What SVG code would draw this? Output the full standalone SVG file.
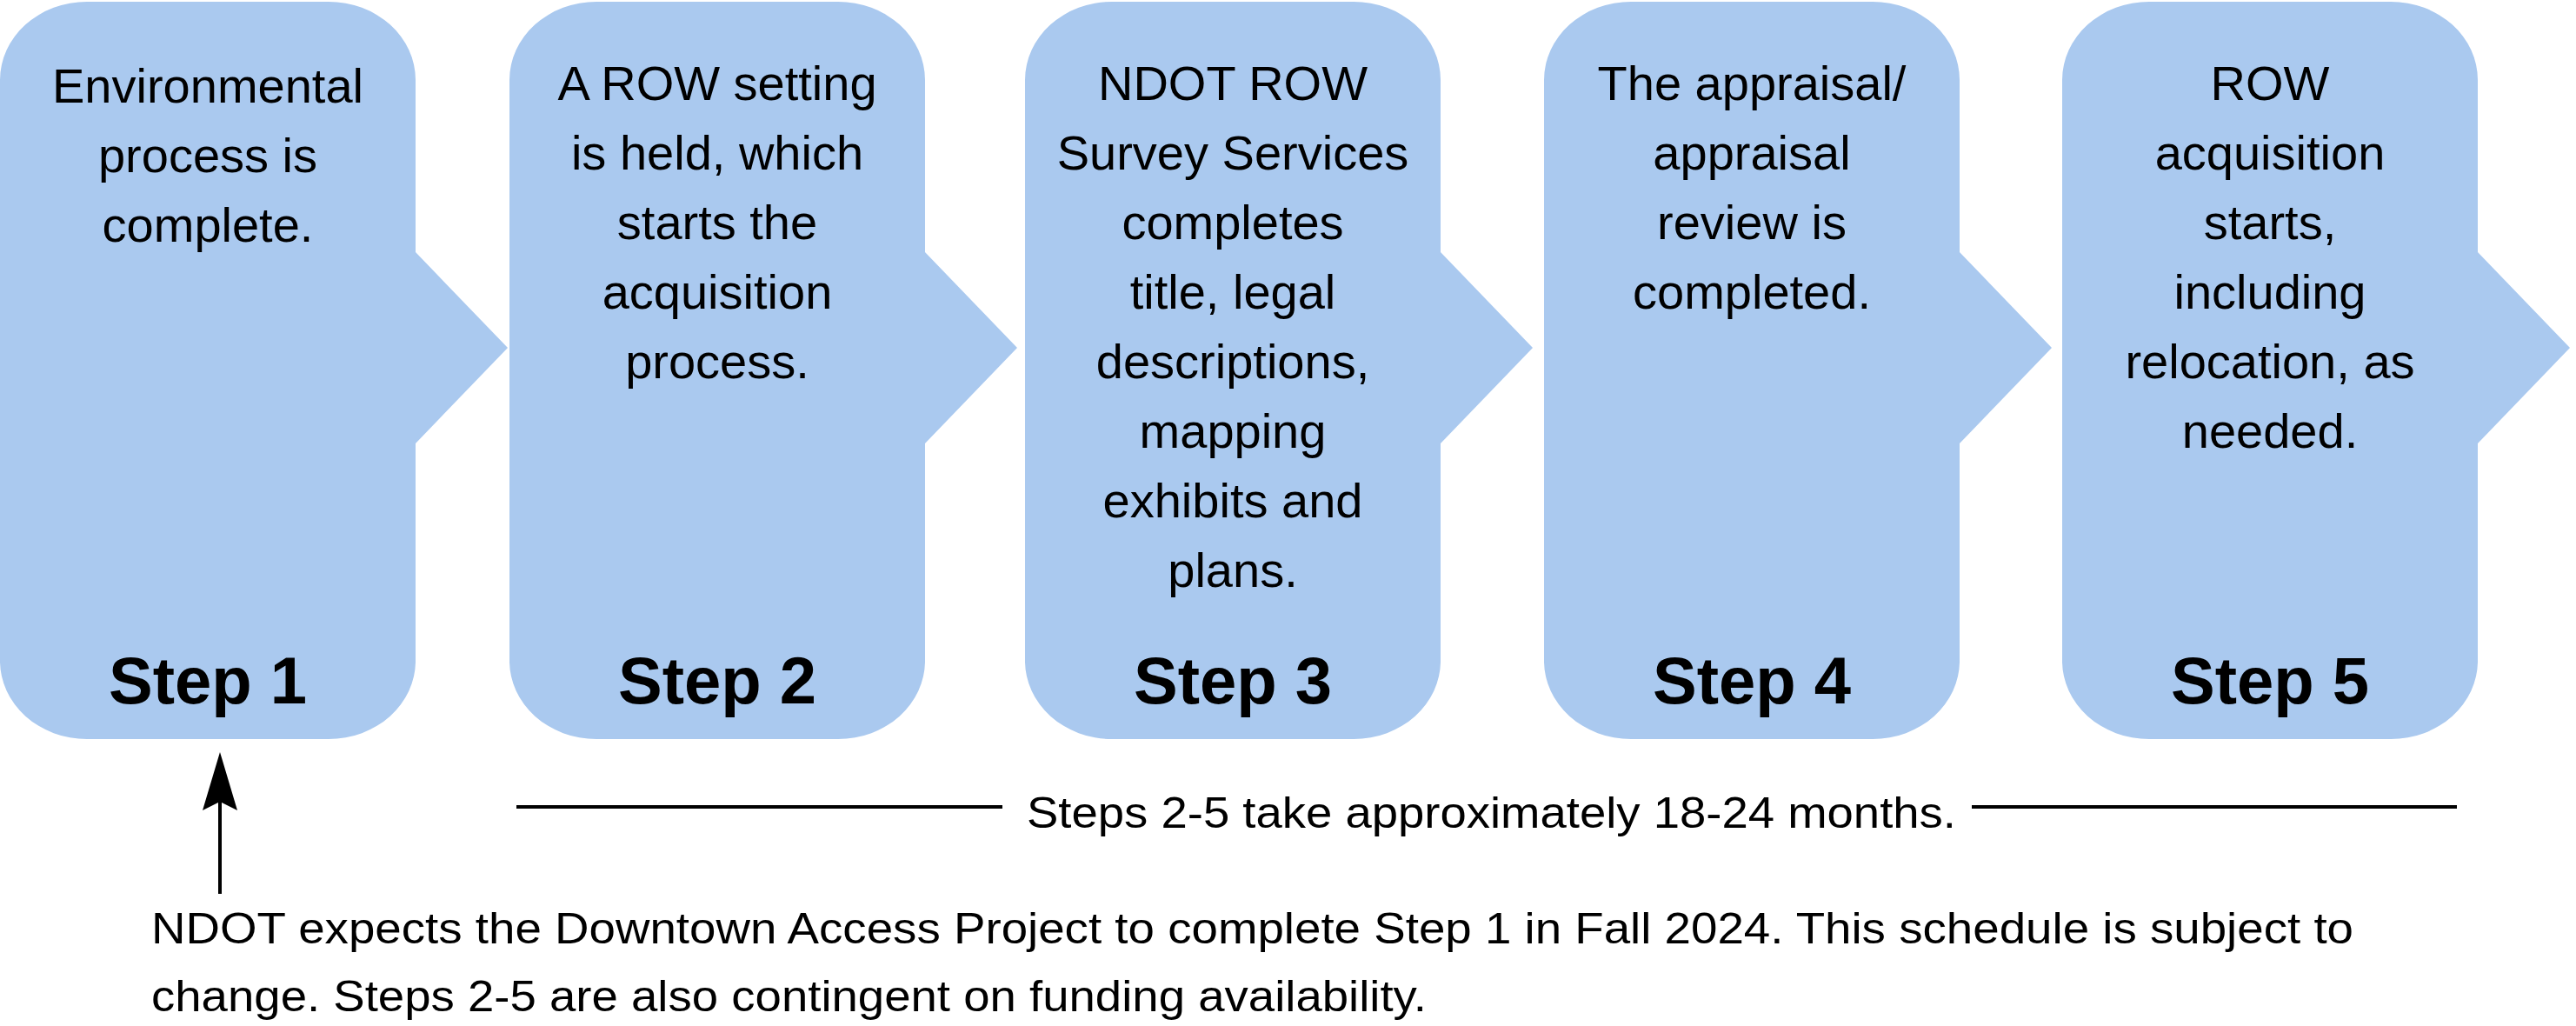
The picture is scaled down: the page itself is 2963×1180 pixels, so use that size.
<svg xmlns="http://www.w3.org/2000/svg" width="2963" height="1180" viewBox="0 0 2963 1180">
<defs>
<style>
.box{fill:#aac9ef}
.t{font-family:"Liberation Sans",Arial,sans-serif;font-size:56px;fill:#000;text-anchor:middle}
.s{font-family:"Liberation Sans",Arial,sans-serif;font-size:76px;font-weight:bold;fill:#000;text-anchor:middle}
.n{font-family:"Liberation Sans",Arial,sans-serif;font-size:50px;fill:#000}
</style>
<path id="shape" d="M100,2 H378 A100,90 0 0 1 478,92 V290 L584,400 L478,510 V760 A100,90 0 0 1 378,850 H100 A100,90 0 0 1 0,760 V92 A100,90 0 0 1 100,2 Z"/>
<marker id="ah" viewBox="0 0 10 10" refX="10" refY="5" markerWidth="8" markerHeight="10" markerUnits="userSpaceOnUse" orient="auto"/>
</defs>
<rect width="2963" height="1180" fill="#fff"/>
<g id="step1"><use href="#shape" class="box" x="0"/>
<text class="t"><tspan x="239" y="118">Environmental</tspan><tspan x="239" y="198">process is</tspan><tspan x="239" y="278">complete.</tspan></text>
<text class="s" x="239" y="809">Step 1</text></g>
<g id="step2"><use href="#shape" class="box" x="586"/>
<text class="t"><tspan x="825" y="115">A ROW setting</tspan><tspan x="825" y="195">is held, which</tspan><tspan x="825" y="275">starts the</tspan><tspan x="825" y="355">acquisition</tspan><tspan x="825" y="435">process.</tspan></text>
<text class="s" x="825" y="809">Step 2</text></g>
<g id="step3"><use href="#shape" class="box" x="1179"/>
<text class="t"><tspan x="1418" y="115">NDOT ROW</tspan><tspan x="1418" y="195">Survey Services</tspan><tspan x="1418" y="275">completes</tspan><tspan x="1418" y="355">title, legal</tspan><tspan x="1418" y="435">descriptions,</tspan><tspan x="1418" y="515">mapping</tspan><tspan x="1418" y="595">exhibits and</tspan><tspan x="1418" y="675">plans.</tspan></text>
<text class="s" x="1418" y="809">Step 3</text></g>
<g id="step4"><use href="#shape" class="box" x="1776"/>
<text class="t"><tspan x="2015" y="115">The appraisal/</tspan><tspan x="2015" y="195">appraisal</tspan><tspan x="2015" y="275">review is</tspan><tspan x="2015" y="355">completed.</tspan></text>
<text class="s" x="2015" y="809">Step 4</text></g>
<g id="step5"><use href="#shape" class="box" x="2372"/>
<text class="t"><tspan x="2611" y="115">ROW</tspan><tspan x="2611" y="195">acquisition</tspan><tspan x="2611" y="275">starts,</tspan><tspan x="2611" y="355">including</tspan><tspan x="2611" y="435">relocation, as</tspan><tspan x="2611" y="515">needed.</tspan></text>
<text class="s" x="2611" y="809">Step 5</text></g>
<g id="connectors" stroke="#000" stroke-width="4">
<line x1="253" y1="1028" x2="253" y2="910"/>
<polygon points="253,865 233,932 253,922 273,932" fill="#000" stroke="none"/>
<line x1="594" y1="928" x2="1153" y2="928"/>
<line x1="2268" y1="928" x2="2826" y2="928"/>
</g>
<text class="n" x="1181" y="952" textLength="1069" lengthAdjust="spacingAndGlyphs">Steps 2-5 take approximately 18-24 months.</text>
<text class="n" x="174" y="1085" textLength="2533" lengthAdjust="spacingAndGlyphs">NDOT expects the Downtown Access Project to complete Step 1 in Fall 2024. This schedule is subject to</text>
<text class="n" x="174" y="1163" textLength="1467" lengthAdjust="spacingAndGlyphs">change. Steps 2-5 are also contingent on funding availability.</text>
</svg>
